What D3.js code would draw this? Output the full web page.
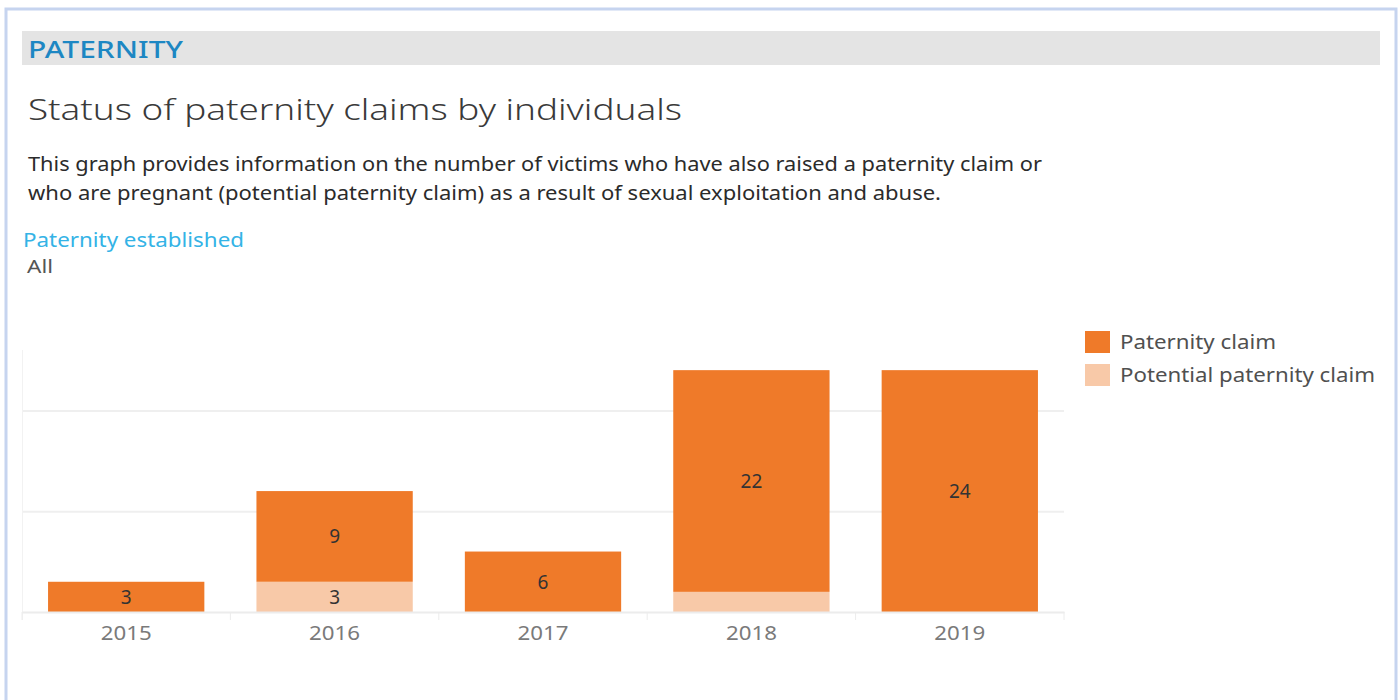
<!DOCTYPE html>
<html>
<head>
<meta charset="utf-8">
<script src="https://cdn.jsdelivr.net/npm/d3@7"></script>
<style>
  body { margin: 0; background: #fff; }
  svg { display: block; }
</style>
</head>
<body>
<div id="chart"></div>
<script>
// data
const years = ["2015", "2016", "2017", "2018", "2019"];
const paternityClaim = [3, 9, 6, 22, 24];
const potentialClaim = [0, 3, 0, 2, 0];
const seriesNames = ["Paternity claim", "Potential paternity claim"];
const gridTicks = [0, 10, 20];

const W = 1400, H = 700;
const font = "'Noto Sans', 'Open Sans', sans-serif";

const svg = d3.select("#chart").append("svg")
    .attr("width", W).attr("height", H);

// stretch a text to the width it has in the original (its font runs wide)
function fit(sel, len) {
    sel.attr("textLength", len).attr("lengthAdjust", "spacingAndGlyphs");
}

// outer frame (bottom edge runs off the page)
svg.append("path")
    .attr("d", "M6,702 L6,9 L1396,9 L1396,702")
    .attr("fill", "none")
    .attr("stroke", "#c6d4ef")
    .attr("stroke-width", 3);

// section header band
svg.append("rect")
    .attr("x", 22).attr("y", 31).attr("width", 1358).attr("height", 34)
    .attr("fill", "#e4e4e4");
svg.append("text")
    .attr("x", 28).attr("y", 58)
    .attr("font-family", font).attr("font-size", 24).attr("font-weight", 500)
    .attr("fill", "#1d87c3")
    .text("PATERNITY")
    .call(fit, 155);

svg.append("text")
    .attr("x", 28).attr("y", 120)
    .attr("font-family", font).attr("font-size", 30).attr("font-weight", 300)
    .attr("fill", "#3a3a3a")
    .text("Status of paternity claims by individuals")
    .call(fit, 654);

const desc = [
    "This graph provides information on the number of victims who have also raised a paternity claim or",
    "who are pregnant (potential paternity claim) as a result of sexual exploitation and abuse."
];
const descWidths = [1014, 913];
svg.selectAll("text.desc").data(desc).enter().append("text")
    .attr("class", "desc")
    .attr("x", 28).attr("y", (d, i) => 171 + i * 29)
    .attr("font-family", font).attr("font-size", 19)
    .attr("fill", "#2b2b2b")
    .text(d => d)
    .attr("textLength", (d, i) => descWidths[i])
    .attr("lengthAdjust", "spacingAndGlyphs");

svg.append("text")
    .attr("x", 23).attr("y", 247)
    .attr("font-family", font).attr("font-size", 19)
    .attr("fill", "#34b3e6")
    .text("Paternity established")
    .call(fit, 221);
svg.append("text")
    .attr("x", 27).attr("y", 273)
    .attr("font-family", font).attr("font-size", 18)
    .attr("fill", "#555")
    .text("All")
    .call(fit, 26);

// chart area
const plotLeft = 22, plotRight = 1064, plotTop = 350, plotBottom = 612;

const x = d3.scaleBand().domain(years).range([plotLeft, plotRight]).paddingInner(0.25).paddingOuter(0.125);
const y = d3.scaleLinear().domain([0, 26]).range([plotBottom, plotTop]);

const rows = years.map((yr, i) => ({
    year: yr,
    potential: potentialClaim[i],
    paternity: paternityClaim[i]
}));
const stack = d3.stack().keys(["potential", "paternity"])(rows);
const colors = { paternity: "#ef7a29", potential: "#f8c9a8" };

// gridlines
svg.append("g").selectAll("line").data(gridTicks.slice(1)).enter().append("line")
    .attr("x1", plotLeft).attr("x2", plotRight)
    .attr("y1", d => y(d) + 0.5).attr("y2", d => y(d) + 0.5)
    .attr("stroke", "#efefef").attr("stroke-width", 2);

// faint left rule
svg.append("line")
    .attr("x1", plotLeft + 0.5).attr("x2", plotLeft + 0.5)
    .attr("y1", plotTop).attr("y2", plotBottom + 8)
    .attr("stroke", "#f2f2f2");

// bars
const layers = svg.append("g").selectAll("g").data(stack).enter().append("g")
    .attr("fill", d => colors[d.key]);
layers.selectAll("rect").data(d => d).enter().append("rect")
    .attr("x", d => x(d.data.year))
    .attr("width", x.bandwidth())
    .attr("y", d => y(d[1]))
    .attr("height", d => y(d[0]) - y(d[1]));

// segment labels (small segments stay unlabelled)
layers.selectAll("text").data(d => d.filter(s => s[1] - s[0] >= 3)).enter().append("text")
    .attr("x", d => x(d.data.year) + x.bandwidth() / 2)
    .attr("y", d => (y(d[0]) + y(d[1])) / 2)
    .attr("dy", "0.36em")
    .attr("text-anchor", "middle")
    .attr("font-family", font).attr("font-size", 19)
    .attr("fill", "#333")
    .text(d => d[1] - d[0]);

// x axis
const xAxis = svg.append("g")
    .attr("transform", `translate(0,${plotBottom})`)
    .call(d3.axisBottom(x).tickSize(0).tickPadding(14));
xAxis.select(".domain").attr("stroke", "#ececec").attr("stroke-width", 2);
xAxis.selectAll(".tick text")
    .attr("font-family", font).attr("font-size", 20)
    .attr("fill", "#7a7a7a")
    .call(fit, 51);
const bounds = years.map(yr => x(yr) - x.step() * x.paddingInner() / 2).concat([plotRight]);
xAxis.selectAll("line.sep").data(bounds).enter().append("line")
    .attr("class", "sep")
    .attr("x1", d => d).attr("x2", d => d)
    .attr("y1", 0).attr("y2", 8)
    .attr("stroke", "#ececec");

// legend
const legend = svg.append("g").attr("transform", "translate(1085,331)");
const legendKeys = ["paternity", "potential"];
const legendWidths = [156, 255];
legendKeys.forEach((k, i) => {
    const g = legend.append("g").attr("transform", `translate(0,${i * 33})`);
    g.append("rect").attr("width", 25).attr("height", 22).attr("fill", colors[k]);
    g.append("text")
        .attr("x", 35).attr("y", 11).attr("dy", "0.36em")
        .attr("font-family", font).attr("font-size", 20)
        .attr("fill", "#505050")
        .text(seriesNames[i])
        .call(fit, legendWidths[i]);
});
</script>
</body>
</html>
